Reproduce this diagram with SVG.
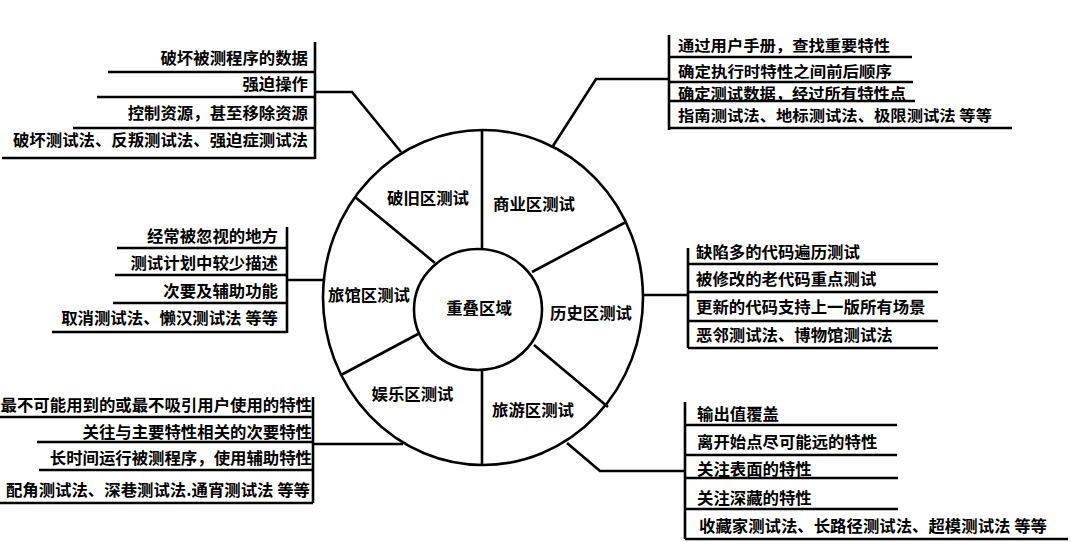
<svg xmlns="http://www.w3.org/2000/svg" width="1080" height="542" viewBox="0 0 1080 542">
<style>
.ln{fill:none;stroke:#000;stroke-width:2.6;stroke-linecap:butt;stroke-linejoin:miter}
.t{font-family:"Noto Sans CJK SC","Noto Sans",sans-serif;font-weight:bold;font-size:16.4px;fill:#000}
.s{font-size:15.2px}
.e{text-anchor:end}
.m{text-anchor:middle}
</style>
<rect width="1080" height="542" fill="#fff"/>
<g id="wheel">
  <ellipse class="ln" cx="483" cy="297.5" rx="160" ry="167.5"/>
  <ellipse class="ln" cx="478" cy="309.5" rx="64" ry="60.5"/>
  <path class="ln" d="M482 130V249 M482 370V465 M355 197L435 263 M626 222L532 272 M534 345L608 407 M418 334L341 375"/>
</g>
<g id="zone-old"><text class="t m" x="428" y="204">破旧区测试</text></g>
<g id="zone-business"><text class="t m" x="534" y="210">商业区测试</text></g>
<g id="zone-hotel"><text class="t m" x="369" y="301">旅馆区测试</text></g>
<g id="zone-overlap"><text class="t m" x="479" y="313.5">重叠区域</text></g>
<g id="zone-history"><text class="t m" x="591" y="319">历史区测试</text></g>
<g id="zone-entertainment"><text class="t m" x="412.5" y="400">娱乐区测试</text></g>
<g id="zone-tourist"><text class="t m" x="533" y="415.5">旅游区测试</text></g>

<g id="list-old">
  <path class="ln" d="M315 42V159 M108 72H315 M97 97H315 M73 128H315 M2 158H315"/>
  <text class="t e" x="308" y="63.5">破坏被测程序的数据</text>
  <text class="t e" x="308" y="90">强迫操作</text>
  <text class="t e" x="308" y="119">控制资源，甚至移除资源</text>
  <text class="t e" x="308" y="146">破坏测试法、反叛测试法、强迫症测试法</text>
</g>
<g id="list-business">
  <path class="ln" d="M669 35V130 M669 57H912 M669 82H913 M669 101H915 M669 128H1012"/>
  <text class="t s" x="678" y="50.5" textLength="212" lengthAdjust="spacingAndGlyphs">通过用户手册，查找重要特性</text>
  <text class="t s" x="678" y="76.5" textLength="214" lengthAdjust="spacingAndGlyphs">确定执行时特性之间前后顺序</text>
  <text class="t s" x="678" y="98.5" textLength="228" lengthAdjust="spacingAndGlyphs">确定测试数据，经过所有特性点</text>
  <text class="t s" x="678" y="120.5" textLength="314" lengthAdjust="spacingAndGlyphs">指南测试法、地标测试法、极限测试法 等等</text>
</g>
<g id="list-hotel">
  <path class="ln" d="M287 227V333 M117 248H287 M115 275H287 M113 303H287 M52 332H287"/>
  <text class="t e" x="278" y="241.5">经常被忽视的地方</text>
  <text class="t e" x="278" y="269">测试计划中较少描述</text>
  <text class="t e" x="278" y="296.5">次要及辅助功能</text>
  <text class="t e" x="278" y="323.5">取消测试法、懒汉测试法 等等</text>
</g>
<g id="list-history">
  <path class="ln" d="M688 248V348 M688 264H938 M688 292H938 M688 321H938 M688 348H938"/>
  <text class="t" x="696" y="257.5">缺陷多的代码遍历测试</text>
  <text class="t" x="696" y="285">被修改的老代码重点测试</text>
  <text class="t" x="696" y="312.5">更新的代码支持上一版所有场景</text>
  <text class="t" x="696" y="341">恶邻测试法、博物馆测试法</text>
</g>
<g id="list-entertainment">
  <path class="ln" d="M313 397V503 M0 417H313 M37 442H313 M39 470H313 M0 503H313"/>
  <text class="t e" x="312" y="410.5">最不可能用到的或最不吸引用户使用的特性</text>
  <text class="t e" x="312" y="437.5">关往与主要特性相关的次要特性</text>
  <text class="t e" x="312" y="464">长时间运行被测程序，使用辅助特性</text>
  <text class="t e" x="310" y="496">配角测试法、深巷测试法.通宵测试法 等等</text>
</g>
<g id="list-tourist">
  <path class="ln" d="M685 402V539 M685 425H897 M685 455H897 M685 478H898 M685 509H898 M685 539H1068"/>
  <text class="t" x="697" y="420">输出值覆盖</text>
  <text class="t" x="697" y="447.5">离开始点尽可能远的特性</text>
  <text class="t" x="697" y="475">关注表面的特性</text>
  <text class="t" x="697" y="503.5">关注深藏的特性</text>
  <text class="t" x="699" y="531.5">收藏家测试法、长路径测试法、超模测试法 等等</text>
</g>

<g id="connectors">
  <path class="ln" d="M401 152L352 92H315"/>
  <path class="ln" d="M553 146L596 79H669"/>
  <path class="ln" d="M323 280H287"/>
  <path class="ln" d="M643 295H688"/>
  <path class="ln" d="M403 444H313"/>
  <path class="ln" d="M567 443L600 471H685"/>
</g>
</svg>
